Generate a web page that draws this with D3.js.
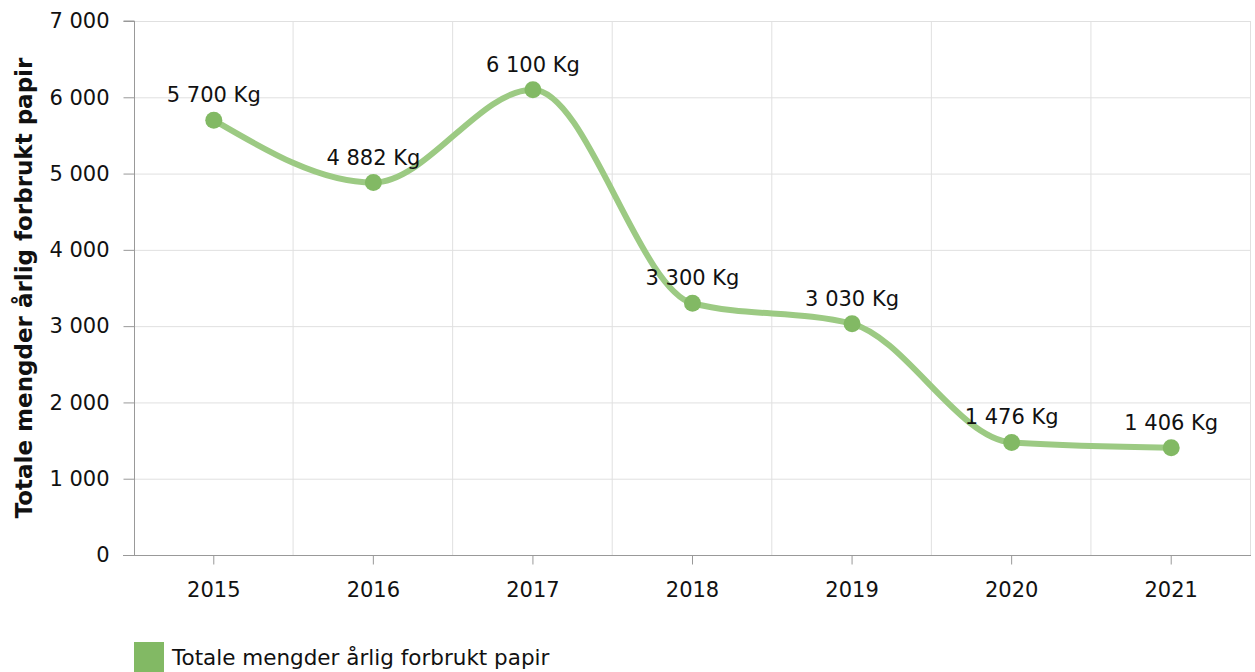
<!DOCTYPE html>
<html>
<head>
<meta charset="utf-8">
<script src="https://cdn.jsdelivr.net/npm/d3@7"></script>
<style>
  body { margin: 0; background: #fff; }
  svg { font-family: "DejaVu Sans", Verdana, sans-serif; display: block; }
</style>
</head>
<body>
<svg></svg>
<script>
const years = ["2015", "2016", "2017", "2018", "2019", "2020", "2021"];
const paper = [5700, 4882, 6100, 3300, 3030, 1476, 1406];
const yTicks = [0, 1000, 2000, 3000, 4000, 5000, 6000, 7000];
const yTitle = "Totale mengder årlig forbrukt papir";
const seriesName = "Totale mengder årlig forbrukt papir";
const unit = "Kg";

const width = 1255, height = 672;
const margin = { top: 21, right: 4, bottom: 117, left: 134 };

const locale = d3.formatLocale({ decimal: ",", thousands: " ", grouping: [3], currency: ["", ""] });
const fmt = locale.format(",d");

const svg = d3.select("svg")
    .attr("width", width)
    .attr("height", height);

const x = d3.scaleBand()
    .domain(years)
    .range([margin.left, width - margin.right]);

const y = d3.scaleLinear()
    .domain([0, 7000])
    .range([height - margin.bottom, margin.top]);

const data = years.map((yr, i) => ({ year: yr, value: paper[i] }));

// gridlines
const grid = svg.append("g").attr("class", "grid");
grid.selectAll("line.h")
    .data(yTicks.filter(d => d > 0))
    .enter()
    .append("line")
    .attr("class", "h")
    .attr("x1", margin.left)
    .attr("x2", width - margin.right)
    .attr("y1", d => y(d) + 0.5)
    .attr("y2", d => y(d) + 0.5)
    .attr("stroke", "#e0e0e0");

grid.selectAll("line.v")
    .data(years.slice(1).concat(["end"]))
    .enter()
    .append("line")
    .attr("class", "v")
    .attr("x1", d => (d === "end" ? x.range()[1] : x(d)) - 0.5)
    .attr("x2", d => (d === "end" ? x.range()[1] : x(d)) - 0.5)
    .attr("y1", margin.top)
    .attr("y2", y(0))
    .attr("stroke", "#e0e0e0");

// y axis
const yAxis = svg.append("g")
    .attr("transform", `translate(${margin.left + 0.5},0)`)
    .call(d3.axisLeft(y).tickValues(yTicks).tickSize(11).tickPadding(14).tickFormat(fmt));
yAxis.select(".domain").attr("stroke", "#999").attr("d", `M-11,${y(7000)}H0V${y(0)}`);
yAxis.selectAll(".tick line").attr("stroke", "#999");
yAxis.selectAll(".tick text")
    .attr("fill", "#111")
    .style("font-size", "21px")
    .style("font-family", "DejaVu Sans, sans-serif");

// x axis
const xAxis = svg.append("g")
    .attr("transform", `translate(0,${y(0) + 0.5})`)
    .call(d3.axisBottom(x).tickSize(9).tickPadding(18));
xAxis.select(".domain").attr("stroke", "#999").attr("d", `M${margin.left - 11},0H${width - margin.right}`);
xAxis.selectAll(".tick line").attr("stroke", "#999");
xAxis.selectAll(".tick text")
    .attr("fill", "#111")
    .style("font-size", "21px")
    .style("font-family", "DejaVu Sans, sans-serif");

// y title
svg.append("text")
    .attr("transform", `translate(32 ${(margin.top + y(0)) / 2}) rotate(-90)`)
    .attr("text-anchor", "middle")
    .style("font-size", "23px")
    .style("font-weight", "bold")
    .attr("fill", "#111")
    .text(yTitle);

// line
const line = d3.line()
    .x(d => x(d.year) + x.bandwidth() / 2)
    .y(d => y(d.value))
    .curve(d3.curveMonotoneX);

svg.append("path")
    .datum(data)
    .attr("fill", "none")
    .attr("stroke", "#9cca83")
    .attr("stroke-width", 6)
    .attr("stroke-linecap", "round")
    .attr("d", line);

svg.append("g").attr("class", "points")
    .selectAll("circle")
    .data(data)
    .enter()
    .append("circle")
    .attr("cx", d => x(d.year) + x.bandwidth() / 2)
    .attr("cy", d => y(d.value))
    .attr("r", 8.5)
    .attr("fill", "#82b964");

svg.append("g").attr("class", "labels")
    .selectAll("text")
    .data(data)
    .enter()
    .append("text")
    .attr("x", d => x(d.year) + x.bandwidth() / 2)
    .attr("y", d => y(d.value) - 18)
    .attr("text-anchor", "middle")
    .style("font-size", "21px")
    .attr("fill", "#111")
    .text(d => `${fmt(d.value)} ${unit}`);

// legend
const legend = svg.append("g").attr("transform", `translate(${margin.left} 642)`);
legend.append("rect")
    .attr("width", 30)
    .attr("height", 30)
    .attr("fill", "#82b964");
legend.append("text")
    .attr("x", 38)
    .attr("y", 23)
    .style("font-size", "21.5px")
    .attr("fill", "#111")
    .text(seriesName);
</script>
</body>
</html>
